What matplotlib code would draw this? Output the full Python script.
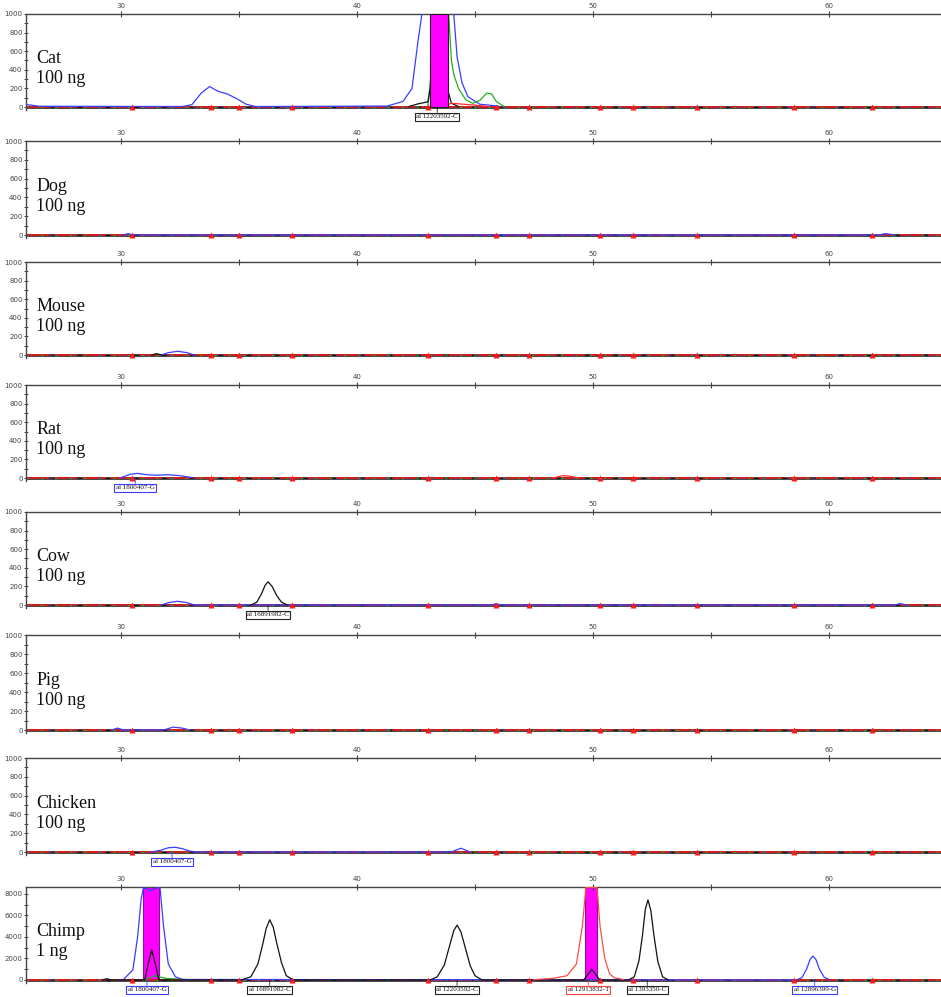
import matplotlib
matplotlib.use("Agg")
import matplotlib.pyplot as plt
import numpy as np

# panel names, amounts, y range
names = ["Cat", "Dog", "Mouse", "Rat", "Cow", "Pig", "Chicken", "Chimp"]
amounts = ["100 ng"] * 7 + ["1 ng"]
y_max = [1000] * 7 + [8650]

# red size-standard spikes along the baseline
spike_x = [30.45, 33.82, 35.0, 37.25, 43.0, 45.9, 47.3, 50.3, 51.69, 54.4, 58.5, 61.83]

# Cat 100 ng
cat_blue_x = [26.0, 26.2, 26.5, 32.6, 33.0, 33.4, 33.75, 34.1, 34.5, 34.9, 35.3, 35.7,
              41.27, 41.95, 42.33, 42.58, 42.75, 43.4, 44.1, 44.24, 44.45, 44.7, 45.2, 46.0]
cat_blue_y = [25, 20, 8, 5, 25, 150, 220, 170, 140, 90, 30, 5,
              10, 60, 200, 700, 1000, 1400, 1000, 540, 260, 110, 30, 10]
cat_green_x = [43.0, 43.5, 43.86, 44.0, 44.1, 44.3, 44.6, 44.9, 45.2, 45.5, 45.7, 45.9, 46.2]
cat_green_y = [5, 1300, 1100, 500, 350, 200, 80, 40, 70, 150, 140, 60, 10]
cat_black_x = [42.2, 42.6, 43.0, 43.4, 44.0, 44.3]
cat_black_y = [5, 35, 55, 600, 40, 5]
cat_red_x = [43.6, 44.0, 44.5, 45.0, 45.6]
cat_red_y = [5, 40, 30, 20, 5]

# Dog 100 ng
dog_blue_x = [30.1, 30.3, 30.5, 62.1, 62.4, 62.8]
dog_blue_y = [0, 15, 0, 0, 15, 0]

# Mouse 100 ng
mouse_blue_x = [31.7, 32.0, 32.4, 32.8, 33.1]
mouse_blue_y = [0, 25, 40, 25, 0]
mouse_black_x = [31.3, 31.5, 31.7]
mouse_black_y = [0, 15, 0]

# Rat 100 ng
rat_blue_x = [30.0, 30.4, 30.7, 31.1, 31.5, 32.0, 32.5, 33.0]
rat_blue_y = [5, 40, 50, 35, 30, 35, 25, 5]
rat_red_x = [48.3, 48.7, 49.0, 49.4]
rat_red_y = [0, 25, 20, 0]

# Cow 100 ng
cow_blue_x = [31.7, 32.0, 32.4, 32.8, 33.1, 45.7, 45.9, 46.1, 62.8, 63.0, 63.3]
cow_blue_y = [0, 25, 40, 25, 0, 0, 15, 0, 0, 15, 0]
cow_black_x = [35.5, 35.75, 35.95, 36.1, 36.23, 36.4, 36.6, 36.8, 37.05]
cow_black_y = [0, 30, 120, 210, 250, 200, 100, 30, 0]

# Pig 100 ng
pig_blue_x = [29.6, 29.85, 30.1, 31.8, 32.2, 32.6, 32.9]
pig_blue_y = [0, 20, 0, 0, 30, 20, 0]

# Chicken 100 ng
chicken_blue_x = [31.3, 31.7, 32.0, 32.3, 32.6, 32.9, 33.2, 44.0, 44.4, 44.8]
chicken_blue_y = [0, 20, 45, 50, 35, 10, 0, 0, 40, 0]

# Chimp 1 ng
chimp_blue_x = [29.9, 30.1, 30.5, 30.7, 30.85, 30.95, 31.25, 31.55, 31.65, 31.8, 32.0, 32.3, 32.6,
                58.6, 58.85, 59.05, 59.2, 59.32, 59.45, 59.6, 59.8, 60.05]
chimp_blue_y = [0, 50, 930, 4000, 7500, 8600, 8300, 8600, 8600, 5000, 1500, 300, 50,
                0, 200, 1000, 1900, 2230, 1900, 1000, 250, 0]
chimp_green_x = [31.0, 31.4, 31.6, 31.9, 32.5, 33.0]
chimp_green_y = [0, 400, 300, 150, 80, 0]
chimp_black_x = [29.2, 29.4, 29.6, 31.0, 31.15, 31.3, 31.45, 31.6,
                 35.1, 35.5, 35.8, 36.0, 36.15, 36.3, 36.45, 36.6, 36.8, 37.0, 37.3,
                 43.1, 43.4, 43.7, 43.9, 44.1, 44.24, 44.4, 44.6, 44.8, 45.0, 45.3,
                 49.6, 49.75, 49.95, 50.15, 50.3,
                 51.5, 51.75, 51.95, 52.1, 52.22, 52.33, 52.45, 52.58, 52.75, 52.95, 53.2]
chimp_black_y = [0, 120, 0, 0, 1500, 2800, 1500, 0,
                 0, 300, 1500, 3300, 4800, 5600, 4900, 3400, 1600, 400, 0,
                 0, 300, 1400, 3000, 4600, 5100, 4500, 2900, 1300, 400, 0,
                 0, 400, 1000, 400, 0,
                 0, 300, 1800, 4200, 6600, 7450, 6500, 4200, 1700, 300, 0]
chimp_red_x = [47.5, 48.3, 48.9, 49.3, 49.55, 49.7, 50.17, 50.3, 50.5, 50.7, 50.9, 51.3]
chimp_red_y = [30, 150, 400, 1500, 5000, 8600, 8600, 5000, 2000, 600, 200, 50]

# called-allele bars (magenta) per panel
cat_bars = [(43.1, 43.86)]
chimp_bars = [(30.93, 31.61), (49.66, 50.17)]

# allele call labels: position, text, box colour
cat_calls = [(43.4, "al 12203592-C", "black")]
rat_calls = [(30.6, "al 1800407-G", "blue")]
cow_calls = [(36.23, "al 16891982-C", "black")]
chicken_calls = [(32.16, "al 1800407-G", "blue")]
chimp_calls = [(31.1, "al 1800407-G", "blue"), (36.3, "al 16891982-C", "black"),
               (44.24, "al 12203592-C", "black"), (49.8, "al 12913832-T", "red"),
               (52.3, "al 1393350-C", "black"), (59.4, "al 12896399-G", "blue")]

BLUE, GREEN, BLACK, RED = "#3c3cff", "#22b022", "#111111", "#ff2a2a"

traces = [
    [(BLUE, cat_blue_x, cat_blue_y), (GREEN, cat_green_x, cat_green_y),
     (BLACK, cat_black_x, cat_black_y), (RED, cat_red_x, cat_red_y)],
    [(BLUE, dog_blue_x, dog_blue_y)],
    [(BLUE, mouse_blue_x, mouse_blue_y), (BLACK, mouse_black_x, mouse_black_y)],
    [(BLUE, rat_blue_x, rat_blue_y), (RED, rat_red_x, rat_red_y)],
    [(BLUE, cow_blue_x, cow_blue_y), (BLACK, cow_black_x, cow_black_y)],
    [(BLUE, pig_blue_x, pig_blue_y)],
    [(BLUE, chicken_blue_x, chicken_blue_y)],
    [(GREEN, chimp_green_x, chimp_green_y), (BLUE, chimp_blue_x, chimp_blue_y),
     (BLACK, chimp_black_x, chimp_black_y), ("#ff4a4a", chimp_red_x, chimp_red_y)],
]
bars = [cat_bars, [], [], [], [], [], [], chimp_bars]
calls = [cat_calls, [], [], rat_calls, cow_calls, [], chicken_calls, chimp_calls]
box_colors = {"black": "#222222", "blue": "#3c3cff", "red": "#ff4040"}

# panel pixel extents (top spine, baseline)
tops = [14, 141, 262, 385, 512, 635, 758, 887]
bottoms = [107, 235, 355, 478, 605, 730, 852, 980]
W, H = 941, 997
x0, x1 = 25.97, 64.75
pad_frac = 0.03  # room below zero so the baseline is not clipped

fig = plt.figure(figsize=(W / 100, H / 100), dpi=100)
serif = "Liberation Serif"

for i in range(8):
    h = (bottoms[i] - tops[i]) * (1 + pad_frac)
    ax = fig.add_axes([26 / W, 1 - (tops[i] + h) / H, (W - 26) / W, h / H])
    ax.set_xlim(x0, x1)
    ax.set_ylim(-pad_frac * y_max[i], y_max[i])

    # baseline: layered colours
    ax.axhline(0, color=BLACK, lw=1.8, zorder=2)
    ax.axhline(0, color="#d41c1c", lw=1.4, dashes=(12, 2.5), zorder=2.2)
    ax.axhline(0, color=GREEN, lw=0.8, dashes=(2, 11), zorder=2.3)
    ax.axhline(0, color=BLUE, lw=0.7, dashes=(1.5, 23), zorder=2.3)

    span_z = 5 if i == 0 else 1
    for a, b in bars[i]:
        ax.axvspan(a, b, ymin=pad_frac / (1 + pad_frac), ymax=1, facecolor="#ff00ff",
                   edgecolor="#222222" if i == 0 else "#7a1a9a", lw=0.8, zorder=span_z)

    for color, xs, ys in traces[i]:
        ax.plot(xs, ys, color=color, lw=0.9, zorder=3)

    ax.plot(spike_x, np.zeros(len(spike_x)), ls="none", marker="^", ms=4,
            color="#ff1a1a", mec="none", zorder=4)

    for xc, txt, c in calls[i]:
        ec = box_colors[c]
        ax.annotate(txt, xy=(xc, 0), xytext=(0, -7), textcoords="offset points",
                    ha="center", va="center", fontsize=5, family=serif, color="#111111",
                    bbox=dict(boxstyle="square,pad=0.2", fc="white", ec=ec, lw=0.8),
                    arrowprops=dict(arrowstyle="-", color=ec, lw=0.6, shrinkA=0, shrinkB=0),
                    annotation_clip=False, zorder=6)

    ax.text(0.011, 0.43, names[i] + "\n" + amounts[i], transform=ax.transAxes,
            ha="left", va="center", fontsize=13, family=serif, linespacing=1.25,
            color="#111111")

    # axes styling: only left and top spines
    for s in ["right", "bottom"]:
        ax.spines[s].set_visible(False)
    for s in ["left", "top"]:
        ax.spines[s].set_color("#444444")
        ax.spines[s].set_linewidth(1.0)

    ax.xaxis.tick_top()
    ax.set_xticks([30, 40, 50, 60])
    ax.set_xticks([35, 45, 55], minor=True)
    ax.tick_params(axis="x", which="both", direction="inout", length=4, width=0.8,
                   color="#444444", labelsize=5, pad=1.5, labelcolor="#444444")

    if y_max[i] > 1000:
        ax.set_yticks([0, 2000, 4000, 6000, 8000])
        ax.set_yticks([1000, 3000, 5000, 7000], minor=True)
    else:
        ax.set_yticks(np.arange(0, 1001, 200))
        ax.set_yticks(np.arange(100, 1000, 200), minor=True)
    ax.tick_params(axis="y", which="both", direction="inout", length=3, width=0.7,
                   color="#444444", labelsize=5, pad=1, labelcolor="#444444")

fig.savefig("out.png", dpi=100)
